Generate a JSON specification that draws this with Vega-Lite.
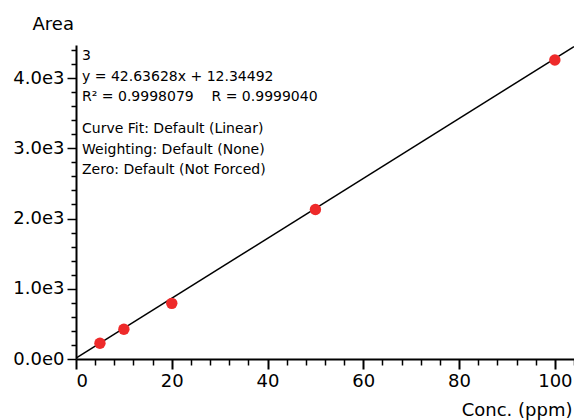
{
  "$schema": "https://vega.github.io/schema/vega-lite/v6.json",
  "width": 498,
  "height": 314,
  "autosize": "none",
  "padding": {"left": 76, "top": 45, "right": 0, "bottom": 61},
  "background": "white",
  "config": {
    "view": {"stroke": null},
    "font": "DejaVu Sans",
    "axis": {"grid": false, "domainColor": "black", "tickColor": "black", "labelColor": "black", "titleColor": "black", "labelFont": "DejaVu Sans", "titleFont": "DejaVu Sans", "titleFontWeight": "normal"}
  },
  "datasets": {
    "pts": [
      {"conc": 5, "area": 224},
      {"conc": 10, "area": 423},
      {"conc": 20, "area": 792},
      {"conc": 50, "area": 2128},
      {"conc": 100, "area": 4256}
    ],
    "fit": [
      {"conc": 0, "area": 12.34492},
      {"conc": 104, "area": 4446.5}
    ],
    "notes": [
      {"text": "3", "conc": 1.26, "area": 4316},
      {"text": "y = 42.63628x + 12.34492", "conc": 1.26, "area": 4018},
      {"text": "R² = 0.9998079\u00a0\u00a0\u00a0\u00a0R = 0.9999040", "conc": 1.26, "area": 3724},
      {"text": "Curve Fit: Default (Linear)", "conc": 1.26, "area": 3280},
      {"text": "Weighting: Default (None)", "conc": 1.26, "area": 2982},
      {"text": "Zero: Default (Not Forced)", "conc": 1.26, "area": 2684}
    ]
  },
  "resolve": {"axis": {"x": "independent", "y": "independent"}},
  "layer": [
    {
      "data": {"name": "fit"},
      "mark": {"type": "line", "color": "black", "strokeWidth": 1.5, "clip": true},
      "encoding": {
        "x": {"field": "conc", "type": "quantitative", "scale": {"domain": [0, 104], "nice": false, "zero": false},
          "axis": {"orient": "bottom", "values": [0, 20, 40, 60, 80, 100], "tickSize": 10, "tickWidth": 2, "domainWidth": 2, "labelFontSize": 18, "labelPadding": 3,
            "title": "Conc. (ppm)", "titleFontSize": 18, "titleAnchor": "end", "titleAlign": "right", "titleBaseline": "alphabetic", "titleX": 496, "titleY": 56}},
        "y": {"field": "area", "type": "quantitative", "scale": {"domain": [0, 4470], "nice": false},
          "axis": {"orient": "left", "values": [0, 1000, 2000, 3000, 4000], "tickSize": 9, "tickWidth": 1.5, "domainWidth": 2, "labelFontSize": 18, "labelPadding": 3,
            "labelExpr": "replace(format(datum.value, '.1e'), '+', '')",
            "title": "Area", "titleFontSize": 18, "titleAngle": 0, "titleAlign": "left", "titleBaseline": "middle", "titleX": -44, "titleY": -21}}
      }
    },
    {
      "data": {"name": "pts"},
      "mark": {"type": "circle", "color": "#ee2a2a", "opacity": 1, "size": 130},
      "encoding": {
        "x": {"field": "conc", "type": "quantitative", "scale": {"domain": [0, 104], "nice": false, "zero": false},
          "axis": {"orient": "bottom", "values": [4, 8, 12, 16, 24, 28, 32, 36, 44, 48, 52, 56, 64, 68, 72, 76, 84, 88, 92, 96, 104], "tickSize": 6, "tickWidth": 1.5, "labels": false, "domain": false, "title": null}},
        "y": {"field": "area", "type": "quantitative", "scale": {"domain": [0, 4470], "nice": false},
          "axis": {"orient": "left", "values": [200, 400, 600, 800, 1200, 1400, 1600, 1800, 2200, 2400, 2600, 2800, 3200, 3400, 3600, 3800, 4200, 4400], "tickSize": 5, "tickWidth": 1.5, "labels": false, "domain": false, "title": null}}
      }
    },
    {
      "data": {"name": "notes"},
      "mark": {"type": "text", "align": "left", "baseline": "middle", "fontSize": 14, "font": "DejaVu Sans", "color": "black"},
      "encoding": {
        "x": {"field": "conc", "type": "quantitative", "scale": {"domain": [0, 104], "nice": false, "zero": false}, "axis": null},
        "y": {"field": "area", "type": "quantitative", "scale": {"domain": [0, 4470], "nice": false}, "axis": null},
        "text": {"field": "text"}
      }
    }
  ]
}
